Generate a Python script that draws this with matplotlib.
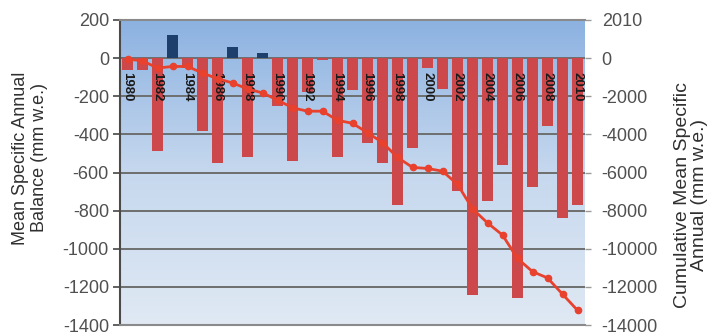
import numpy as np
import matplotlib
matplotlib.use("Agg")
import matplotlib.pyplot as plt
from matplotlib.colors import LinearSegmentedColormap

plt.rcParams['font.family'] = ['Liberation Sans', 'DejaVu Sans']

years = list(range(1980, 2011))
annual = [-60, -60, -487, 121, -50, -382, -552, 60, -520, 25, -252, -539, -180, -8,
          -521, -165, -443, -552, -773, -474, -52, -162, -695, -1242, -752, -561,
          -1259, -677, -356, -839, -770]
cumulative = [-52, -141, -521, -437, -437, -780, -1080, -1300, -1615, -1824, -2200,
              -2605, -2783, -2783, -3260, -3420, -3910, -4430, -5210, -5730, -5790,
              -5930, -6620, -7905, -8645, -9280, -10510, -11200, -11530, -12380, -13230]
left_ticks = [200, 0, -200, -400, -600, -800, -1000, -1200, -1400]
right_ticks = [2000, 0, -2000, -4000, -6000, -8000, -10000, -12000, -14000]
right_tick_labels = ['2010', '0', '-2000', '-4000', '-6000', '-8000', '-10000', '-12000', '-14000']
year_labels = [y for y in years if y % 2 == 0]

fig = plt.figure(figsize=(7.12, 3.35), dpi=100)
ax = fig.add_axes([120/712, 10/335, 465/712, 305/335])

xmin, xmax = years[0] - 0.5, years[-1] + 0.5
ymin, ymax = -1400, 200

# gradient background
cmap = LinearSegmentedColormap.from_list('bg', ['#e0e9f4', '#c6d8ee', '#8cb2e1'])
grad = np.linspace(0, 1, 256).reshape(-1, 1)
ax.imshow(grad, cmap=cmap, origin='lower', extent=[xmin, xmax, ymin, ymax],
          aspect='auto', zorder=0)

for t in left_ticks:
    ax.axhline(t, color='#6e6e6e', lw=1.4, zorder=1)

colors = ['#1d3f6c' if v > 0 else '#cc484a' for v in annual]
ax.bar(years, annual, width=0.68, color=colors, zorder=2)

for y in year_labels:
    ax.text(y, -72, str(y), rotation=270, ha='center', va='top', fontsize=9.5,
            fontweight='bold', color='#1a1a1a', zorder=3)

ax.set_xlim(xmin, xmax)
ax.set_ylim(ymin, ymax)
ax.set_xticks([])
ax.set_yticks(left_ticks)
ax.set_yticklabels([str(t) for t in left_ticks])
ax.tick_params(axis='y', length=5, width=1.3, color='#555555', pad=3,
               labelsize=13, labelcolor='#505050')
for s in ['top', 'bottom']:
    ax.spines[s].set_color('#8a8a8a')
    ax.spines[s].set_linewidth(1.5)
ax.spines['left'].set_color('#4a4a4a')
ax.spines['left'].set_linewidth(1.5)
ax.spines['right'].set_visible(False)

ax2 = ax.twinx()
ax2.plot(years, cumulative, color='#e8412e', lw=2.0, marker='o', markersize=4.5, zorder=4)
ax2.set_ylim(-14000, 2000)
ax2.set_yticks(right_ticks)
ax2.set_yticklabels(right_tick_labels)
ax2.tick_params(axis='y', length=4, width=1.0, color='#9a9a9a', pad=8,
                labelsize=13, labelcolor='#505050')
for s in ax2.spines.values():
    s.set_visible(False)
ax2.set_xlim(xmin, xmax)

fig.text(30/712, 1 - 158/335, 'Mean Specific Annual\nBalance (mm w.e.)', rotation=90,
         ha='center', va='center', fontsize=13, color='#303030', linespacing=1.12)
fig.text(691/712, 1 - 195/335, 'Cumulative Mean Specific\nAnnual (mm w.e.)', rotation=90,
         ha='center', va='center', fontsize=14, color='#303030', linespacing=1.0)

fig.savefig('out.png', dpi=100)
